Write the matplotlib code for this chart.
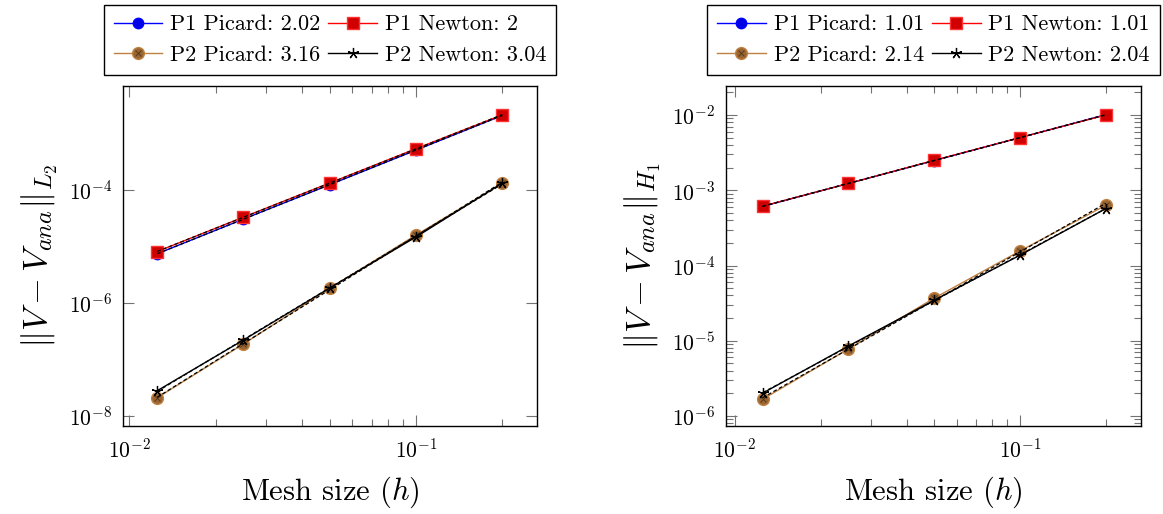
import numpy as np
import matplotlib
matplotlib.use("Agg")
import matplotlib.pyplot as plt
from matplotlib.legend_handler import HandlerTuple
from matplotlib.ticker import LogLocator, NullLocator, FixedLocator, NullFormatter

plt.rcParams['font.family'] = 'serif'
plt.rcParams['font.serif'] = ['cmr10']
plt.rcParams['mathtext.fontset'] = 'cm'
plt.rcParams['axes.formatter.use_mathtext'] = True

# ---------------- data ----------------
h = [0.0125, 0.025, 0.05, 0.1, 0.2]

# L2 errors
l2_p1_picard = [7.4e-6, 3.05e-5, 1.24e-4, 5.1e-4, 2.1e-3]
l2_p1_newton = [8.1e-6, 3.3e-5, 1.33e-4, 5.4e-4, 2.15e-3]
l2_p2_picard = [2.07e-8, 1.86e-7, 1.81e-6, 1.59e-5, 1.31e-4]
l2_p2_newton = [2.76e-8, 2.19e-7, 1.83e-6, 1.47e-5, 1.33e-4]
l2_labels = ["P1 Picard: 2.02", "P1 Newton: 2", "P2 Picard: 3.16", "P2 Newton: 3.04"]

# H1 errors
h1_p1_picard = [6.1e-4, 1.23e-3, 2.48e-3, 5.0e-3, 1.01e-2]
h1_p1_newton = [6.14e-4, 1.23e-3, 2.5e-3, 5.01e-3, 1.0e-2]
h1_p2_picard = [1.67e-6, 7.76e-6, 3.68e-5, 1.56e-4, 6.32e-4]
h1_p2_newton = [2.01e-6, 8.5e-6, 3.46e-5, 1.37e-4, 5.71e-4]
h1_labels = ["P1 Picard: 1.01", "P1 Newton: 1.01", "P2 Picard: 2.14", "P2 Newton: 2.04"]

BROWN_LINE = (0.75, 0.5, 0.25)
BROWN_FILL = (0.6, 0.4, 0.2)

fig = plt.figure(figsize=(11.63, 5.14), dpi=100)
ax1 = fig.add_axes([0.1058, 0.1712, 0.3559, 0.6615])
ax2 = fig.add_axes([0.6242, 0.1712, 0.3569, 0.6615])


def draw(ax, series, labels, ylabel, xlim, ylim, ymajor, yminor):
    p1p, p1n, p2p, p2n = series
    hb, = ax.plot(h, p1p, '-', color='blue', lw=1.0, marker='o', ms=7.5,
                  mfc=(0, 0, 0.9), mec='blue', zorder=3)
    hr, = ax.plot(h, p1n, '-', color='red', lw=1.0, marker='s', ms=8.5,
                  mfc=(0.82, 0, 0), mec=(1, 0.2, 0.2), zorder=3)
    hbr, = ax.plot(h, p2p, '-', color=BROWN_LINE, lw=1.0, marker='o', ms=8.5,
                   mfc=BROWN_FILL, mec=BROWN_LINE, zorder=3)
    hbx, = ax.plot(h, p2p, ' ', marker='x', ms=5, mec=(0.35, 0.22, 0.1),
                   mew=0.7, zorder=3.1)
    hk, = ax.plot(h, p2n, '-', color='black', lw=1.0, marker=(5, 2, 0), ms=8,
                  mec='black', mew=0.9, zorder=3.2)
    # least-squares fit lines (dashed)
    lh = np.log10(h)
    for s in series:
        c = np.polyfit(lh, np.log10(s), 1)
        ax.plot(h, 10 ** np.polyval(c, lh), '--', color='black', lw=0.9,
                dashes=(3, 2), zorder=3.3)

    ax.set_xscale('log')
    ax.set_yscale('log')
    ax.set_xlim(*xlim)
    ax.set_ylim(*ylim)
    ax.xaxis.set_major_locator(FixedLocator([1e-2, 1e-1]))
    ax.xaxis.set_minor_locator(LogLocator(base=10, subs=np.arange(2, 10)))
    ax.xaxis.set_minor_formatter(NullFormatter())
    ax.yaxis.set_major_locator(FixedLocator(ymajor))
    if yminor:
        ax.yaxis.set_minor_locator(LogLocator(base=10, subs=np.arange(2, 10), numticks=20))
    else:
        ax.yaxis.set_minor_locator(NullLocator())
    ax.yaxis.set_minor_formatter(NullFormatter())
    ax.tick_params(which='both', direction='in', top=True, right=True,
                   color=(0.45, 0.45, 0.45), labelsize=15.5)
    ax.tick_params(which='major', length=8, width=0.8, pad=8)
    ax.tick_params(which='minor', length=5, width=0.8)
    for sp in ax.spines.values():
        sp.set_linewidth(1.0)
        sp.set_color('black')
    ax.set_xlabel(r'Mesh size $(h)$', fontsize=22, labelpad=10)
    ax.set_ylabel(ylabel, fontsize=25, labelpad=6)

    # row-wise order: (P1 Picard, P1 Newton) / (P2 Picard, P2 Newton)
    handles = [hb, (hbr, hbx), hr, hk]
    labs = [labels[0], labels[2], labels[1], labels[3]]
    leg = ax.legend(handles, labs, ncol=2, loc='lower center',
                    bbox_to_anchor=(0.5, 1.032), fontsize=16, frameon=True,
                    fancybox=False, edgecolor='black', framealpha=1,
                    handlelength=2.2, handletextpad=0.35, columnspacing=0.35,
                    borderpad=0.45, labelspacing=0.5, numpoints=1,
                    handler_map={tuple: HandlerTuple(ndivide=1)},
                    borderaxespad=0)
    leg.get_frame().set_linewidth(1.0)


draw(ax1, [l2_p1_picard, l2_p1_newton, l2_p2_picard, l2_p2_newton], l2_labels,
     r'$\|V - V_{ana}\|_{L_2}$', (0.00951, 0.2642), (6.56e-9, 6.98e-3),
     [1e-8, 1e-6, 1e-4], False)
draw(ax2, [h1_p1_picard, h1_p1_newton, h1_p2_picard, h1_p2_newton], h1_labels,
     r'$\|V - V_{ana}\|_{H_1}$', (0.0093, 0.2659), (7.37e-7, 2.43e-2),
     [1e-6, 1e-5, 1e-4, 1e-3, 1e-2], True)

fig.savefig('out.png', dpi=100)
